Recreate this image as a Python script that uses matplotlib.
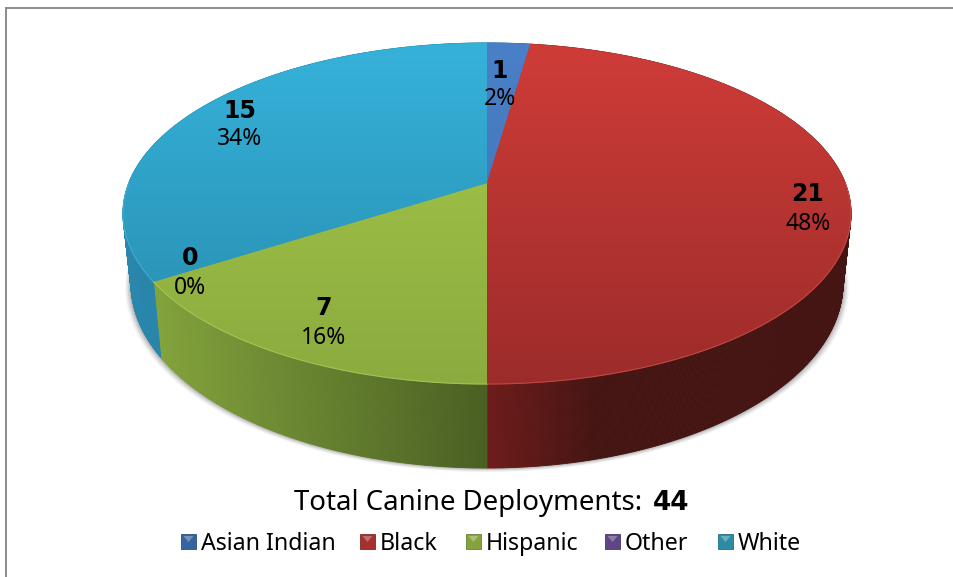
import numpy as np
import matplotlib
matplotlib.use("Agg")
import matplotlib.pyplot as plt
from matplotlib.collections import PolyCollection
from matplotlib.patches import Polygon, Rectangle
from matplotlib.colors import LinearSegmentedColormap

plt.rcParams['font.family'] = ['Noto Sans', 'DejaVu Sans']
BOLD_FONT = ['DejaVu Sans']

categories = ['Asian Indian', 'Black', 'Hispanic', 'Other', 'White']
counts = [1, 21, 7, 0, 15]
total_label = 'Total Canine Deployments:'

# top face gradient (upper colour, lower colour), side gradient (left, right)
top_colors = [('#4a80c8', '#3f70ae'), ('#cf3c38', '#9c2c2a'), ('#a6c94a', '#8bab3f'),
              ('#7a5aa6', '#5f4585'), ('#36b2da', '#2689ab')]
side_colors = [('#2f5f96', '#2f5f96'), ('#6e1c1a', '#451513'), ('#83a33c', '#4a5f22'),
               ('#4c3a6a', '#4c3a6a'), ('#2a86ab', '#24799c')]
legend_colors = ['#35659f', '#a5302e', '#85a23c', '#5f4585', '#2d8ba6']

label_pos = [(500, 71, 99), (808, 194, 224), (324, 308, 338), (190, 258, 288), (240, 111, 139)]
legend_x = [181, 360, 466, 605, 718]

# ellipse of the top face and the smaller/shifted one for the bottom rim, in pixels
CX, CY, RX, RY = 487, 213.5, 364, 170.5
APEX_Y = 183
LOW_RX, LOW_RY, LOW_CY = 356, 184.6, 283.4


def project(theta):
    # theta is clockwise from 12 o'clock; the pie is tilted so its centre sits above the ellipse centre
    k = (CY - APEX_Y) / RY
    u, v = np.sin(theta), np.cos(theta)
    w = 1 + k * v
    return u * np.sqrt(1 - k * k) / w, (v + k) / w


def top_edge(theta):
    x, y = project(theta)
    return CX + RX * x, CY - RY * y


def low_edge(theta):
    x, y = project(theta)
    return CX + LOW_RX * x, LOW_CY - LOW_RY * y


def mix(c1, c2, t):
    a = np.array(matplotlib.colors.to_rgb(c1))
    b = np.array(matplotlib.colors.to_rgb(c2))
    return tuple(a + (b - a) * t)


fig = plt.figure(figsize=(9.54, 5.77), dpi=100)
ax = fig.add_axes([0, 0, 1, 1])
ax.set_xlim(0, 954)
ax.set_ylim(577, 0)

total = sum(counts)
edges = 2 * np.pi * np.concatenate([[0], np.cumsum(counts)]) / total

# soft shadow under the rim
th = np.linspace(0, 2 * np.pi, 400)
for grow, alpha in zip([6, 5, 4, 3, 2, 1], [0.03, 0.04, 0.05, 0.06, 0.08, 0.1]):
    lx, ly = low_edge(th)
    ax.add_patch(Polygon(np.c_[CX + (lx - CX) * (1 + grow / LOW_RX), ly + grow * 0.7],
                         closed=True, fc='k', ec='none', alpha=alpha, zorder=1))

# side wall, one thin strip per step so the colour can run left to right
for i in range(len(counts)):
    if counts[i] == 0:
        continue
    steps = max(int(counts[i] * 30), 20)
    ang = np.linspace(edges[i], edges[i + 1], steps + 1)
    tx, ty = top_edge(ang)
    bx, by = low_edge(ang)
    polys = []
    cols = []
    x_left, x_right = min(tx.min(), bx.min()), max(tx.max(), bx.max())
    for j in range(steps):
        polys.append([(tx[j], ty[j]), (tx[j + 1], ty[j + 1]), (bx[j + 1], by[j + 1]), (bx[j], by[j])])
        if i == 1:
            t = min(abs(tx[j] - CX) / 110.0, 1.0)
            cols.append(mix(side_colors[i][0], side_colors[i][1], t))
        else:
            t = (tx[j] - x_left) / max(x_right - x_left, 1)
            cols.append(mix(side_colors[i][0], side_colors[i][1], t))
    ax.add_collection(PolyCollection(polys, facecolors=cols, edgecolors=cols, linewidths=0.6, zorder=2))

# top face, a vertical gradient clipped to each slice
grad = np.linspace(0, 1, 256).reshape(-1, 1)
for i in range(len(counts)):
    if counts[i] == 0:
        continue
    ang = np.linspace(edges[i], edges[i + 1], 200)
    ex, ey = top_edge(ang)
    outline = np.vstack([[CX, APEX_Y], np.c_[ex, ey]])
    cmap = LinearSegmentedColormap.from_list('face%d' % i, top_colors[i])
    poly = Polygon(outline, closed=True, fc=mix(*top_colors[i], 0.5), ec=mix(*top_colors[i], 0.5), lw=0.8, zorder=3)
    ax.add_patch(poly)
    im = ax.imshow(grad, cmap=cmap, extent=(CX - RX, CX + RX, CY + RY, CY - RY), aspect='auto', zorder=3.1,
                   vmin=0, vmax=1, interpolation='bilinear')
    im.set_clip_path(poly)
ax.set_xlim(0, 954)
ax.set_ylim(577, 0)

# lighter bevel along the front edge of the top face
for i in range(len(counts)):
    if counts[i] == 0:
        continue
    ang = np.linspace(edges[i], edges[i + 1], 200)
    ang = ang[np.cos(ang) < 0.0]
    if len(ang) > 1:
        ex, ey = top_edge(ang)
        ax.plot(ex, ey, color=mix(top_colors[i][0], '#ffffff', 0.2), lw=0.8, alpha=0.45, zorder=3.3)

# value and percentage labels
for i in range(len(counts)):
    x, y1, y2 = label_pos[i]
    ax.text(x, y1, str(counts[i]), ha='center', va='center', fontsize=17, fontweight='bold',
            family=BOLD_FONT, color='k', zorder=5)
    ax.text(x, y2, '%d%%' % round(100.0 * counts[i] / total), ha='center', va='center', fontsize=16.5,
            color='k', zorder=5)

# total line, the number continues right after the label
t1 = ax.text(294, 510, total_label, ha='left', va='baseline', fontsize=19.9, color='k')
fig.canvas.draw()
bb = t1.get_window_extent()
ax.text(bb.x1 + 11, 510, str(total), ha='left', va='baseline', fontsize=19, fontweight='bold',
        family=BOLD_FONT, color='k')

# legend row
for i in range(len(categories)):
    x = legend_x[i]
    ax.add_patch(Rectangle((x, 534), 15, 15, fc=legend_colors[i], ec=mix(legend_colors[i], '#000000', 0.2), lw=0.6, zorder=4))
    ax.add_patch(Polygon([(x + 2.5, 536), (x + 12.5, 536), (x + 7.5, 542)], closed=True,
                         fc=mix(legend_colors[i], '#ffffff', 0.3), ec='none', zorder=4.1))
    ax.text(x + 20, 550, categories[i], ha='left', va='baseline', fontsize=16.7, color='k')

# frame around the chart
ax.plot([6, 954], [7.7, 7.7], color='#8c8c8c', lw=1.4, solid_capstyle='butt')
ax.plot([6, 6], [7, 577], color='#8c8c8c', lw=1.4, solid_capstyle='butt')

ax.axis('off')
fig.savefig('out.png', dpi=100, facecolor='white')
